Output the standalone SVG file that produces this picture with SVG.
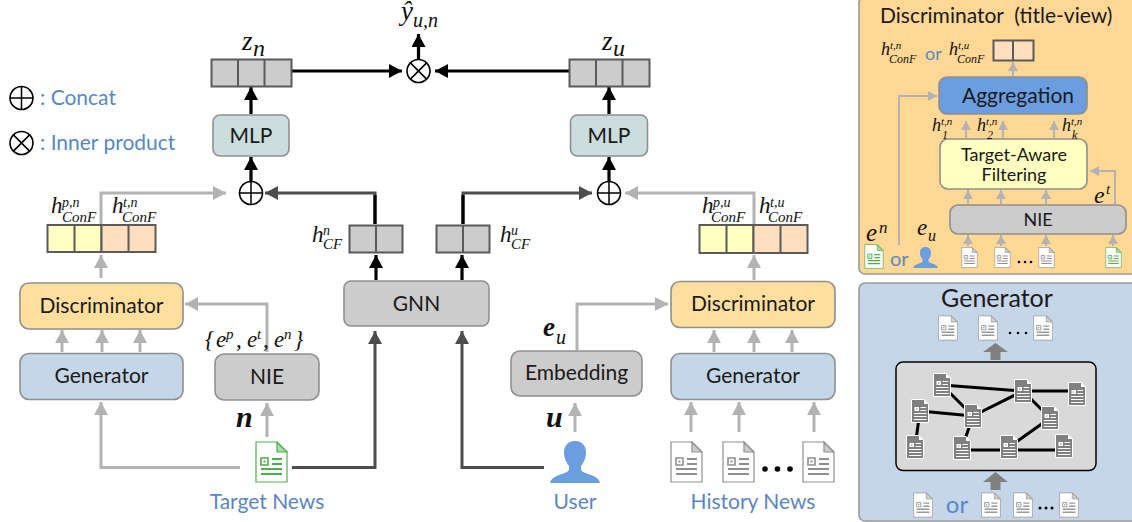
<svg xmlns="http://www.w3.org/2000/svg" xmlns:xlink="http://www.w3.org/1999/xlink" width="1132" height="522" viewBox="0 0 1132 522">
<style>
text{font-family:"Lato","Noto Sans",sans-serif;fill:#1a1a1a}
.box{stroke:#8f8f8f;stroke-width:1.6}
.lbl{font-size:21px;text-anchor:middle}
.blue{font-size:21px;fill:#5a87c8}
.m{font-family:"Liberation Serif",serif;font-style:italic;fill:#111}
.cell{stroke:#5a5a5a;stroke-width:2}
.g{fill:#ccc}.y{fill:#ffffbf}.o{fill:#ffdfc0}
.lg{fill:none;stroke:#b3b3b3;stroke-width:3}
.ld{fill:none;stroke:#4d4d4d;stroke-width:3}
.lk{fill:none;stroke:#000;stroke-width:3.2}
.ls{fill:none;stroke:#b3b3b3;stroke-width:2}
.ed{stroke:#000;stroke-width:3}
.op{fill:#fff;stroke:#000;stroke-width:1.6}
</style>
<defs>
<marker id="ag" markerUnits="userSpaceOnUse" markerWidth="14" markerHeight="14" refX="13" refY="7" orient="auto"><path d="M0 0L13 7L0 14z" fill="#b3b3b3"/></marker>
<marker id="ad" markerUnits="userSpaceOnUse" markerWidth="14" markerHeight="14" refX="13" refY="7" orient="auto"><path d="M0 0L13 7L0 14z" fill="#4d4d4d"/></marker>
<marker id="ak" markerUnits="userSpaceOnUse" markerWidth="14" markerHeight="14" refX="13" refY="7" orient="auto"><path d="M0 0L13 7L0 14z" fill="#000"/></marker>
<marker id="as" markerUnits="userSpaceOnUse" markerWidth="10" markerHeight="10" refX="9" refY="5" orient="auto"><path d="M0 0L9 5L0 10z" fill="#b3b3b3"/></marker>
<symbol id="doc" viewBox="0 0 33 42">
<path d="M1 1H22L32 11V41H1z" fill="#fff" stroke="currentColor" stroke-width="1.2"/>
<path d="M22 1V11H32z" fill="currentColor" fill-opacity=".45" stroke="currentColor" stroke-width="1.2"/>
<path d="M6 17H13V24H6z" fill="none" stroke="currentColor" stroke-width="1.6"/>
<path d="M8.5 19.5H10.500V21.500H8.500z" fill="currentColor"/>
<path d="M17 18H27M17 23H27M6 28H27M6 33H27" stroke="currentColor" stroke-width="2.200" fill="none"/>
</symbol>
<symbol id="dark" viewBox="0 0 18 24">
<path d="M.5 .5H13L17.500 5V23.500H.5z" fill="#808080" stroke="#fff" stroke-width="1"/>
<path d="M13 .5V5H17.500z" fill="#fff"/>
<path d="M3.500 8H8V12H3.500z" fill="#fff"/>
<path d="M5 9.500H6.500V10.500H5z" fill="#808080"/>
<path d="M9.500 8.500H15M9.500 11.500H15M3 14.500H15.500M3 17.500H15.500M3 20.500H15.500" stroke="#fff" stroke-width="1.200" fill="none"/>
</symbol>
<symbol id="user" viewBox="0 0 50 42">
<path d="M25 0C17 0 13.500 6 14 13C14.500 18 16.500 22 19 25V28C19 31 14 32 9 34C4 36 1 38 0 42H50C49 38 46 36 41 34C36 32 31 31 31 28V25C33.500 22 35.500 18 36 13C36.500 6 33 0 25 0z" fill="#6a9ee0"/>
</symbol>
</defs>

<g id="connectors">
<path class="lk" d="M251 182V157" marker-end="url(#ak)"/>
<path class="lk" d="M251 114V87" marker-end="url(#ak)"/>
<path class="lk" d="M609 182V157" marker-end="url(#ak)"/>
<path class="lk" d="M609 114V87" marker-end="url(#ak)"/>
<path class="lk" d="M291 71H402" marker-end="url(#ak)"/>
<path class="lk" d="M569 71H435" marker-end="url(#ak)"/>
<path class="lk" d="M418.500 59V34" marker-end="url(#ak)"/>
<path class="lk" d="M376 280V255" marker-end="url(#ak)"/>
<path class="lk" d="M462 280V255" marker-end="url(#ak)"/>
<path class="ld" d="M375 224V193H265" marker-end="url(#ad)" style="stroke-width:3"/>
<path class="ld" d="M463 224V193H592" marker-end="url(#ad)"/>
<path class="lk" d="M375 224V195M463 224V195"/>
<path class="ld" d="M292 467.500H375V331" marker-end="url(#ad)"/>
<path class="ld" d="M544 467.500H462V331" marker-end="url(#ad)"/>
<path class="lg" d="M101 224V193H226" marker-end="url(#ag)"/>
<path class="lg" d="M754 224V193H625" marker-end="url(#ag)"/>
<path class="lg" d="M101 278V255" marker-end="url(#ag)"/>
<path class="lg" d="M754 280V255" marker-end="url(#ag)"/>
<path class="lg" d="M62 352V330" marker-end="url(#ag)"/>
<path class="lg" d="M102 352V330" marker-end="url(#ag)"/>
<path class="lg" d="M140 352V330" marker-end="url(#ag)"/>
<path class="lg" d="M714 352V330" marker-end="url(#ag)"/>
<path class="lg" d="M754 352V330" marker-end="url(#ag)"/>
<path class="lg" d="M792 352V330" marker-end="url(#ag)"/>
<path class="lg" d="M267 352V304H185" marker-end="url(#ag)"/>
<path class="lg" d="M267 437V403" marker-end="url(#ag)"/>
<path class="lg" d="M240 467.500H101V402" marker-end="url(#ag)"/>
<path class="lg" d="M577 350V304H668" marker-end="url(#ag)"/>
<path class="lg" d="M575 432V403" marker-end="url(#ag)"/>
<path class="lg" d="M691 432V402" marker-end="url(#ag)"/>
<path class="lg" d="M739 432V402" marker-end="url(#ag)"/>
<path class="lg" d="M814 432V402" marker-end="url(#ag)"/>
</g>

<g id="legend">
<circle class="op" cx="21.500" cy="98" r="11.500"/><path d="M10 98H33M21.500 86.500V109.500" stroke="#000" stroke-width="1.500"/>
<circle class="op" cx="21.500" cy="143" r="11.500"/><path d="M13.400 134.900L29.600 151.100M29.600 134.900L13.400 151.100" stroke="#000" stroke-width="1.500"/>
<text class="blue" x="40" y="105">: Concat</text>
<text class="blue" x="40" y="150">: Inner product</text>
</g>

<g id="op-concat-left"><circle class="op" cx="251" cy="193" r="11.500"/><path d="M239.500 193H262.500M251 181.500V204.500" stroke="#000" stroke-width="1.500"/></g>
<g id="op-concat-right"><circle class="op" cx="609" cy="193" r="11.500"/><path d="M597.500 193H620.500M609 181.500V204.500" stroke="#000" stroke-width="1.500"/></g>
<g id="op-inner"><circle class="op" cx="418.500" cy="71" r="11.500"/><path d="M410.400 62.900L426.600 79.100M426.600 62.900L410.400 79.100" stroke="#000" stroke-width="1.500"/></g>

<g id="zn"><rect class="cell g" x="211.500" y="59.500" width="80" height="27"/><path class="cell" d="M238 59V86M264.500 59V86"/>
<text class="m" x="242" y="50" font-size="27">z</text><text class="m" x="253" y="56" font-size="24">n</text></g>
<g id="zu"><rect class="cell g" x="569.500" y="59.500" width="80" height="27"/><path class="cell" d="M596 59V86M622.500 59V86"/>
<text class="m" x="602" y="50" font-size="27">z</text><text class="m" x="613" y="56" font-size="24">u</text></g>
<g id="yhat"><text class="m" x="401" y="20" font-size="27">ŷ</text><text class="m" x="413" y="27" font-size="20">u,n</text></g>

<g id="mlp-left"><rect class="box" x="213" y="115" width="76" height="41" rx="7" fill="#ccdddd"/><text class="lbl" x="251" y="143">MLP</text></g>
<g id="mlp-right"><rect class="box" x="570.500" y="115" width="77" height="41" rx="7" fill="#ccdddd"/><text class="lbl" x="609" y="143">MLP</text></g>

<g id="feat-left">
<rect class="cell y" x="47.500" y="225" width="54" height="27"/><rect class="cell o" x="101.500" y="225" width="54" height="27"/><path class="cell" d="M74.500 225V252M128.500 225V252"/>
<text class="m" x="51" y="213" font-size="23">h</text><text class="m" x="62" y="207" font-size="14">p,n</text><text class="m" x="62" y="222" font-size="15">ConF</text>
<text class="m" x="112" y="213" font-size="23">h</text><text class="m" x="123" y="207" font-size="14">t,n</text><text class="m" x="122" y="222" font-size="15">ConF</text>
</g>
<g id="feat-right">
<rect class="cell y" x="699.500" y="225" width="54" height="28"/><rect class="cell o" x="753.500" y="225" width="54" height="28"/><path class="cell" d="M726.500 225V253M780.500 225V253"/>
<text class="m" x="702" y="213" font-size="23">h</text><text class="m" x="713" y="207" font-size="14">p,u</text><text class="m" x="711" y="222" font-size="15">ConF</text>
<text class="m" x="759" y="213" font-size="23">h</text><text class="m" x="770" y="207" font-size="14">t,u</text><text class="m" x="768" y="222" font-size="15">ConF</text>
</g>
<g id="hcf-n"><rect class="cell g" x="349.500" y="225.500" width="53" height="27"/><path class="cell" d="M376 225V252"/>
<text class="m" x="312" y="242" font-size="23">h</text><text class="m" x="323" y="235" font-size="14">n</text><text class="m" x="323" y="249" font-size="15">CF</text></g>
<g id="hcf-u"><rect class="cell g" x="436.500" y="225.500" width="53" height="27"/><path class="cell" d="M463 225V252"/>
<text class="m" x="500" y="242" font-size="23">h</text><text class="m" x="511" y="235" font-size="14">u</text><text class="m" x="511" y="249" font-size="15">CF</text></g>

<g id="disc-left"><rect class="box" x="20" y="283" width="163" height="46" rx="9" fill="#ffdf9c"/><text class="lbl" x="101.500" y="313">Discriminator</text></g>
<g id="gen-left"><rect class="box" x="20" y="353.500" width="163" height="46" rx="9" fill="#c5d6e8"/><text class="lbl" x="101.500" y="383">Generator</text></g>
<g id="nie-left"><rect class="box" x="215" y="354" width="104" height="46" rx="9" fill="#ccc"/><text class="lbl" x="267" y="384">NIE</text></g>
<g id="gnn"><rect class="box" x="344" y="281" width="145" height="45" rx="7" fill="#ccc"/><text class="lbl" x="416.500" y="311">GNN</text></g>
<g id="emb"><rect class="box" x="511" y="351" width="131" height="45" rx="9" fill="#ccc"/><text class="lbl" x="576.500" y="380">Embedding</text></g>
<g id="disc-right"><rect class="box" x="671" y="281.500" width="164" height="46" rx="9" fill="#ffdf9c"/><text class="lbl" x="753" y="311">Discriminator</text></g>
<g id="gen-right"><rect class="box" x="671" y="353.500" width="164" height="46" rx="9" fill="#c5d6e8"/><text class="lbl" x="753" y="383">Generator</text></g>

<g id="labels">
<text class="m" x="205" y="347" font-size="23" xml:space="preserve">{</text>
<text class="m" x="216" y="347" font-size="23">e</text><text class="m" x="226" y="339" font-size="15">p</text><text class="m" x="236" y="347" font-size="23">,</text>
<text class="m" x="247" y="347" font-size="23">e</text><text class="m" x="257" y="339" font-size="15">t</text><text class="m" x="263" y="347" font-size="23">,</text>
<text class="m" x="274" y="347" font-size="23">e</text><text class="m" x="284" y="339" font-size="15">n</text><text class="m" x="294" y="347" font-size="23">}</text>
<text class="m" x="236" y="427" font-size="30" font-weight="bold">n</text>
<text class="m" x="546" y="427" font-size="30" font-weight="bold">u</text>
<text class="m" x="543" y="336" font-size="27" font-weight="bold">e</text><text class="m" x="556" y="344" font-size="20">u</text>
</g>

<g id="target-news"><use href="#doc" x="255" y="441" width="33" height="42" color="#4cb04c"/><text class="blue" x="267" y="509" text-anchor="middle">Target News</text></g>
<g id="user-node"><use href="#user" x="550" y="441" width="50" height="42"/><text class="blue" x="575" y="509" text-anchor="middle">User</text></g>
<g id="history-news">
<use href="#doc" x="670" y="441" width="33" height="42" color="#8f8f8f"/>
<use href="#doc" x="722" y="441" width="33" height="42" color="#8f8f8f"/>
<use href="#doc" x="802" y="441" width="33" height="42" color="#8f8f8f"/>
<circle cx="765" cy="469" r="2.800"/><circle cx="777.500" cy="469" r="2.800"/><circle cx="790" cy="469" r="2.800"/>
<text class="blue" x="753" y="509" text-anchor="middle">History News</text>
</g>

<g id="panel-discriminator">
<rect x="859" y="-3" width="280" height="277" rx="6" fill="#ffd993" stroke="#999" stroke-width="1.600"/>
<text x="880" y="23" font-size="21" xml:space="preserve">Discriminator  (title-view)</text>
<rect class="cell o" x="993.500" y="40.500" width="40" height="20"/><path class="cell" d="M1013 40V60"/>
<text class="m" x="881" y="55" font-size="18">h</text><text class="m" x="890" y="49" font-size="11">t,n</text><text class="m" x="889" y="63" font-size="12">ConF</text>
<text x="925" y="60" font-size="18" fill="#5a87c8" style="fill:#5a87c8">or</text>
<text class="m" x="949" y="55" font-size="18">h</text><text class="m" x="958" y="49" font-size="11">t,u</text><text class="m" x="957" y="63" font-size="12">ConF</text>
<path class="ls" d="M1013 76V62" marker-end="url(#as)"/>
<path class="ls" d="M899 245V96H937" marker-end="url(#as)"/>
<path class="ls" d="M966 138V121" marker-end="url(#as)"/>
<path class="ls" d="M1003 138V121" marker-end="url(#as)"/>
<path class="ls" d="M1054 138V121" marker-end="url(#as)"/>
<path class="ls" d="M968 204V190" marker-end="url(#as)"/>
<path class="ls" d="M1001 204V190" marker-end="url(#as)"/>
<path class="ls" d="M1046 204V190" marker-end="url(#as)"/>
<path class="ls" d="M1115 204V171H1090" marker-end="url(#as)"/>
<path class="ls" d="M968 246V235" marker-end="url(#as)"/>
<path class="ls" d="M1001 246V235" marker-end="url(#as)"/>
<path class="ls" d="M1046 246V235" marker-end="url(#as)"/>
<path class="ls" d="M1113 246V235" marker-end="url(#as)"/>
<rect class="box" x="939" y="77" width="148" height="37" rx="8" fill="#6a9ee0"/><text class="lbl" x="1018" y="103">Aggregation</text>
<rect class="box" x="940" y="139" width="147" height="50" rx="8" fill="#ffffbf"/><text x="1014" y="161" font-size="18" text-anchor="middle">Target-Aware</text><text x="1014" y="181" font-size="18" text-anchor="middle">Filtering</text>
<rect class="box" x="950" y="205" width="176" height="29" rx="8" fill="#ccc"/><text x="1038" y="226" font-size="18" text-anchor="middle">NIE</text>
<text class="m" x="932" y="131" font-size="18">h</text><text class="m" x="941" y="125" font-size="11">t,n</text><text class="m" x="942" y="139" font-size="12">1</text>
<text class="m" x="977" y="131" font-size="18">h</text><text class="m" x="986" y="125" font-size="11">t,n</text><text class="m" x="987" y="139" font-size="12">2</text>
<text class="m" x="1062" y="131" font-size="18">h</text><text class="m" x="1071" y="125" font-size="11">t,n</text><text class="m" x="1072" y="139" font-size="12">k</text>
<text class="m" x="1094" y="203" font-size="24">e</text><text class="m" x="1106" y="194" font-size="15">t</text>
<text class="m" x="866" y="241" font-size="25">e</text><text class="m" x="879" y="233" font-size="17">n</text>
<text class="m" x="917" y="235" font-size="23">e</text><text class="m" x="928" y="241" font-size="16">u</text>
<use href="#doc" x="864" y="244" width="20" height="25" color="#4cb04c"/>
<text x="890" y="266" font-size="20" style="fill:#5a87c8">or</text>
<use href="#user" x="913" y="247" width="25" height="21"/>
<use href="#doc" x="961" y="247" width="17" height="21" color="#8f8f8f"/>
<use href="#doc" x="994" y="247" width="17" height="21" color="#8f8f8f"/>
<use href="#doc" x="1038" y="247" width="17" height="21" color="#8f8f8f"/>
<use href="#doc" x="1105" y="247" width="17" height="21" color="#4cb04c"/>
<circle cx="1019" cy="262" r="1.300"/><circle cx="1025" cy="262" r="1.300"/><circle cx="1031" cy="262" r="1.300"/>
</g>

<g id="panel-generator">
<rect x="859" y="283" width="280" height="238" rx="6" fill="#c5d6e8" stroke="#999" stroke-width="1.600"/>
<text x="997" y="307" font-size="25" text-anchor="middle">Generator</text>
<use href="#doc" x="938" y="315" width="20" height="26" color="#999"/>
<use href="#doc" x="978" y="315" width="20" height="26" color="#999"/>
<use href="#doc" x="1033" y="315" width="20" height="26" color="#999"/>
<circle cx="1010" cy="333" r="1.300"/><circle cx="1018" cy="333" r="1.300"/><circle cx="1026" cy="333" r="1.300"/>
<path d="M995.500 343L1008 352H1000.500V360H990.500V352H983z" fill="#808080"/>
<rect x="896" y="362" width="200" height="108.500" rx="7" fill="#d9d9d9" stroke="#000" stroke-width="1.500"/>
<g>
<line class="ed" x1="942" y1="385" x2="1023" y2="391"/>
<line class="ed" x1="942" y1="385" x2="973" y2="416"/>
<line class="ed" x1="1023" y1="391" x2="1077" y2="391"/>
<line class="ed" x1="1023" y1="391" x2="973" y2="416"/>
<line class="ed" x1="1023" y1="391" x2="1050" y2="418"/>
<line class="ed" x1="920" y1="411" x2="973" y2="416"/>
<line class="ed" x1="920" y1="411" x2="915" y2="447"/>
<line class="ed" x1="973" y1="416" x2="962" y2="448"/>
<line class="ed" x1="962" y1="450" x2="1009" y2="450"/>
<line class="ed" x1="1009" y1="450" x2="1064" y2="450"/>
<line class="ed" x1="1009" y1="447" x2="1050" y2="418"/>
</g>
<use href="#dark" x="933" y="373" width="18" height="24"/>
<use href="#dark" x="1014" y="379" width="18" height="24"/>
<use href="#dark" x="1068" y="382" width="18" height="24"/>
<use href="#dark" x="911" y="399" width="18" height="24"/>
<use href="#dark" x="964" y="404" width="18" height="24"/>
<use href="#dark" x="1041" y="406" width="18" height="24"/>
<use href="#dark" x="906" y="435" width="18" height="24"/>
<use href="#dark" x="953" y="436" width="18" height="24"/>
<use href="#dark" x="1000" y="435" width="18" height="24"/>
<use href="#dark" x="1055" y="434" width="18" height="24"/>
<path d="M995.500 472L1008 482H1000.500V490H990.500V482H983z" fill="#808080"/>
<use href="#doc" x="913" y="492" width="20" height="26" color="#999"/>
<text x="957" y="513" font-size="24" text-anchor="middle" style="fill:#5a87c8">or</text>
<use href="#doc" x="981" y="492" width="20" height="26" color="#999"/>
<use href="#doc" x="1013" y="492" width="20" height="26" color="#999"/>
<use href="#doc" x="1059" y="492" width="20" height="26" color="#999"/>
<circle cx="1040" cy="508" r="1.500"/><circle cx="1046" cy="508" r="1.500"/><circle cx="1052" cy="508" r="1.500"/>
</g>
</svg>
